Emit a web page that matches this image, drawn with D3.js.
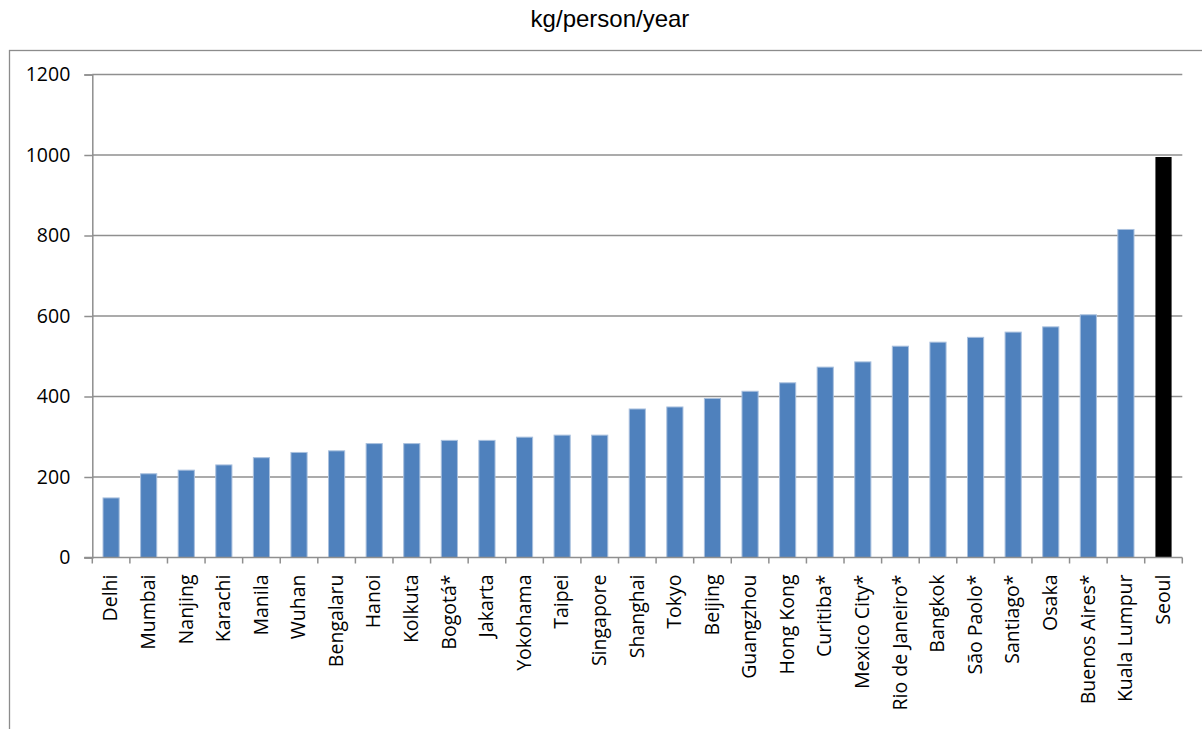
<!DOCTYPE html>
<html>
<head>
<meta charset="utf-8">
<script src="https://cdn.jsdelivr.net/npm/d3@7"></script>
<style>
  html, body { margin: 0; padding: 0; background: #fff; }
  svg { display: block; }
</style>
</head>
<body>
<svg id="chart" width="1202" height="729"></svg>
<script>
// Municipal waste generated per inhabitant, by city
const cities = [
  "Delhi", "Mumbai", "Nanjing", "Karachi", "Manila", "Wuhan", "Bengalaru",
  "Hanoi", "Kolkuta", "Bogotá*", "Jakarta", "Yokohama", "Taipei", "Singapore",
  "Shanghai", "Tokyo", "Beijing", "Guangzhou", "Hong Kong", "Curitiba*",
  "Mexico City*", "Rio de Janeiro*", "Bangkok", "São Paolo*", "Santiago*",
  "Osaka", "Buenos Aires*", "Kuala Lumpur", "Seoul"
];
const wastePerPerson = [
  148, 208, 217, 230, 248, 261, 265,
  283, 283, 291, 291, 299, 304, 304,
  369, 374, 395, 413, 434, 473,
  486, 525, 535, 547, 560,
  573, 603, 815, 995
];
const highlighted = ["Seoul"];
const yTicks = [0, 200, 400, 600, 800, 1000, 1200];
const unitLabel = "kg/person/year";

const svg = d3.select("#chart");

// outer chart frame
svg.append("rect")
  .attr("x", 9.5).attr("y", 50.5)
  .attr("width", 1220).attr("height", 720)
  .attr("fill", "none").attr("stroke", "#8c8c8c").attr("stroke-width", 1.3);

svg.append("text")
  .attr("x", 610).attr("y", 27)
  .attr("text-anchor", "middle")
  .attr("font-family", "'Liberation Sans', Arial, sans-serif")
  .attr("font-size", 24)
  .attr("fill", "#000")
  .text(unitLabel);

const plotLeft = 92.3, plotRight = 1182.3, plotTop = 74.5, plotBottom = 557.5;

const x = d3.scaleBand().domain(cities).range([plotLeft, plotRight]).padding(0);
const y = d3.scaleLinear().domain([0, 1200]).range([plotBottom, plotTop]);

const gridColor = "#8f8f8f";
const labelFont = "'Open Sans', 'Noto Sans', sans-serif";

// horizontal gridlines
svg.append("g")
  .selectAll("line")
  .data(yTicks.filter(d => d > 0))
  .join("line")
  .attr("x1", plotLeft).attr("x2", plotRight)
  .attr("y1", d => y(d)).attr("y2", d => y(d))
  .attr("stroke", gridColor).attr("stroke-width", 1.5);

// bars
const barW = x.step() * 0.43;
svg.append("g")
  .selectAll("rect")
  .data(cities.map((c, i) => ({ city: c, value: wastePerPerson[i] })))
  .join("rect")
  .attr("x", d => x(d.city) + x.bandwidth() / 2 - barW / 2)
  .attr("y", d => y(d.value))
  .attr("width", barW)
  .attr("height", d => y(0) - y(d.value))
  .attr("fill", d => highlighted.includes(d.city) ? "#000000" : "#4f81bd")
  .attr("stroke", d => highlighted.includes(d.city) ? "none" : "#a9c0de")
  .attr("stroke-width", 1);

// y axis
const yAxis = d3.axisLeft(y).tickValues(yTicks).tickSize(8).tickPadding(14).tickFormat(d3.format("d"));
const gy = svg.append("g").attr("transform", `translate(${plotLeft},0)`).call(yAxis);
gy.select(".domain").attr("stroke", gridColor).attr("stroke-width", 1.5);
gy.selectAll(".tick line").attr("stroke", gridColor).attr("stroke-width", 1.5);
gy.selectAll(".tick text")
  .attr("font-family", labelFont).attr("font-size", 19.5).attr("fill", "#000");

// x axis: ticks sit on category boundaries
const gx = svg.append("g").attr("transform", `translate(0,${plotBottom})`);
gx.append("line")
  .attr("x1", plotLeft - 8).attr("x2", plotRight)
  .attr("stroke", gridColor).attr("stroke-width", 1.5);
const boundaries = cities.map(c => x(c)).concat([x.range()[1]]);
gx.selectAll("line.tk")
  .data(boundaries)
  .join("line")
  .attr("class", "tk")
  .attr("x1", d => d).attr("x2", d => d)
  .attr("y1", 0).attr("y2", 6)
  .attr("stroke", gridColor).attr("stroke-width", 1.5);

gx.selectAll("text")
  .data(cities)
  .join("text")
  .attr("transform", d => `translate(${x(d) + x.bandwidth() / 2},17) rotate(-90)`)
  .attr("text-anchor", "end")
  .attr("dy", "0.32em")
  .attr("font-family", labelFont)
  .attr("font-size", 19.5)
  .attr("fill", "#000")
  .text(d => d);
</script>
</body>
</html>
